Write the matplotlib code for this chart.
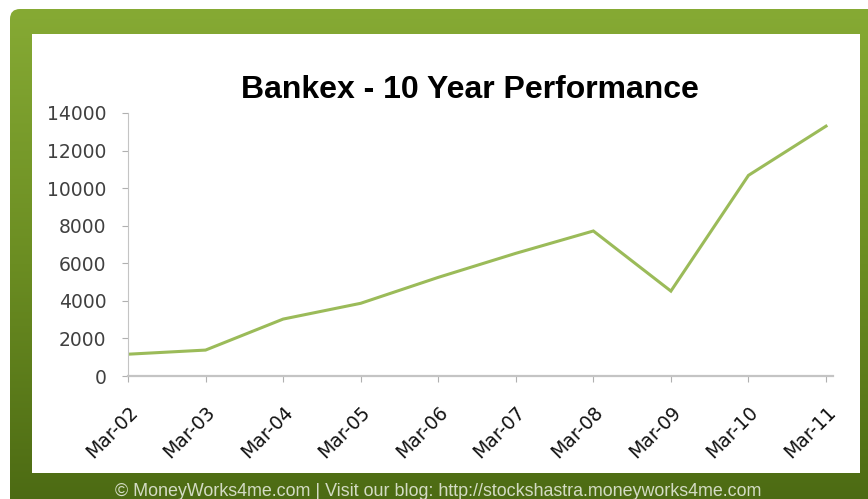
import numpy as np
import matplotlib
matplotlib.use('Agg')
import matplotlib.pyplot as plt
from matplotlib.patches import FancyBboxPatch, Rectangle
from matplotlib.colors import LinearSegmentedColormap

# ─── Data ─────────────────────────────────────────────────────────────────────
periods = ['Mar-02', 'Mar-03', 'Mar-04', 'Mar-05', 'Mar-06',
           'Mar-07', 'Mar-08', 'Mar-09', 'Mar-10', 'Mar-11']
bankex = [1160, 1380, 3030, 3870, 5250, 6530, 7720, 4520, 10680, 13300]
y_ticks = [0, 2000, 4000, 6000, 8000, 10000, 12000, 14000]

TITLE  = 'Bankex - 10 Year Performance'
FOOTER = '\u00a9 MoneyWorks4me.com | Visit our blog: http://stockshastra.moneyworks4me.com'

W, H = 868, 499
def fx(px): return px / W
def fy(py): return 1 - py / H

fig = plt.figure(figsize=(W / 100, H / 100), dpi=100)
fig.patch.set_facecolor('white')

# ─── Green gradient frame ─────────────────────────────────────────────────────
bg = fig.add_axes([0, 0, 1, 1])
bg.set_xlim(0, W)
bg.set_ylim(H, 0)
bg.axis('off')
cmap = LinearSegmentedColormap.from_list('frame', ['#86aa34', '#6b8d22', '#4a6812'])
grad = np.linspace(0, 1, 256).reshape(-1, 1)
im = bg.imshow(grad, cmap=cmap, extent=[10, W + 20, H + 20, 9], aspect='auto', zorder=0)
frame = FancyBboxPatch((10, 9), W, H + 20, boxstyle='round,pad=0,rounding_size=10',
                       transform=bg.transData, facecolor='none', edgecolor='none')
bg.add_patch(frame)
im.set_clip_path(frame)
bg.add_patch(Rectangle((32, 34), 860 - 32, 473 - 34, facecolor='white',
                       edgecolor='none', zorder=1))

bg.text(438, 492, FOOTER, ha='center', va='center', fontsize=12.9,
        color='#d3dbc4', family='Liberation Sans', zorder=2)

# ─── Chart ────────────────────────────────────────────────────────────────────
ax = fig.add_axes([fx(128), fy(376), fx(833) - fx(128), fy(113) - fy(376)])
ax.patch.set_alpha(0)
x = np.arange(len(periods))
ax.plot(x, bankex, color='#9bbb59', lw=2.2, solid_joinstyle='miter')

ax.set_xlim(0, 9.09)
ax.set_ylim(0, 14000)
ax.set_yticks(y_ticks)
ax.set_yticklabels([str(v) for v in y_ticks])
ax.set_xticks(x)
ax.set_xticklabels(periods, rotation=45, ha='right', va='top', rotation_mode='anchor')

for s in ['top', 'right']:
    ax.spines[s].set_visible(False)
ax.spines['left'].set_color('#c4c4c4')
ax.spines['bottom'].set_color('#c4c4c4')
ax.spines['bottom'].set_linewidth(1.6)

ax.tick_params(axis='y', length=4.5, color='#b0b0b0', pad=11, labelsize=13.5,
               labelcolor='#404040')
ax.tick_params(axis='x', length=4, color='#b0b0b0', pad=15, labelsize=13.5,
               labelcolor='#111111')
for lab in ax.get_yticklabels() + ax.get_xticklabels():
    lab.set_family('DejaVu Sans')

fig.text(fx(470), fy(90), TITLE, ha='center', va='center', fontsize=23,
         fontweight='bold', family='Liberation Sans', color='black')

fig.savefig('out.png', dpi=100)
